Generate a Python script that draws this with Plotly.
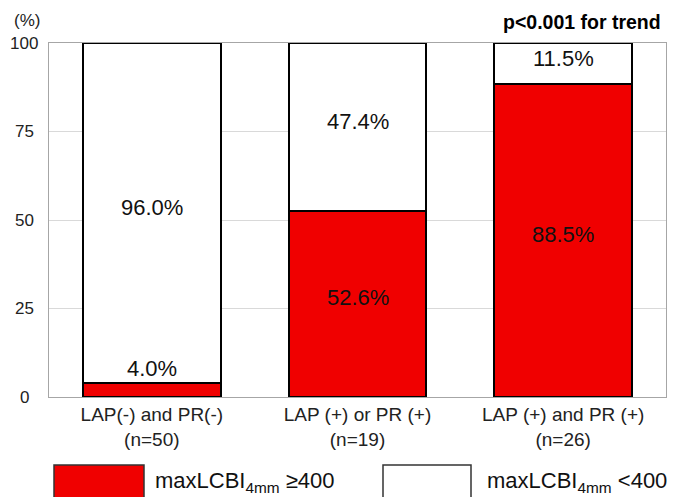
import plotly.graph_objects as go

categories = ["LAP(-) and PR(-)<br>(n=50)", "LAP (+) or PR (+)<br>(n=19)", "LAP (+) and PR (+)<br>(n=26)"]
high_values = [4.0, 52.6, 88.5]   # maxLCBI4mm >=400
low_values = [96.0, 47.4, 11.5]   # maxLCBI4mm <400
y_ticks = [0, 25, 50, 75, 100]

FONT = "Liberation Sans, Arial, sans-serif"
RED = "#F00000"
W, H = 673, 497
L, R, T, B = 49, 7, 43, 100
PW = W - L - R
PH = H - T - B

def px_x(x):
    return (x - L) / PW

def px_y(y):
    return (H - B - y) / PH

fig = go.Figure()
fig.add_trace(go.Bar(x=categories, y=high_values, name="maxLCBI<sub>4mm</sub> ≥400",
                     marker=dict(color=RED, line=dict(color="#000000", width=2)),
                     hoverinfo="skip"))
fig.add_trace(go.Bar(x=categories, y=low_values, name="maxLCBI<sub>4mm</sub> <400",
                     marker=dict(color="#FFFFFF", line=dict(color="#000000", width=2)),
                     hoverinfo="skip"))

ann = []
for c, hv, lv in zip(categories, high_values, low_values):
    if hv < 10:
        ann.append(dict(x=c, y=hv, yref="y", xref="x", text=f"{hv:.1f}%", showarrow=False,
                        xanchor="center", yanchor="bottom", yshift=0,
                        font=dict(size=22, color="#111111", family=FONT)))
    else:
        ann.append(dict(x=c, y=hv / 2, yref="y", xref="x", text=f"{hv:.1f}%", showarrow=False,
                        xanchor="center", yanchor="middle", yshift=6,
                        font=dict(size=22, color="#111111", family=FONT)))
    ann.append(dict(x=c, y=hv + lv / 2, yref="y", xref="x", text=f"{lv:.1f}%", showarrow=False,
                    xanchor="center", yanchor="middle", yshift=5,
                    font=dict(size=22, color="#111111", family=FONT)))

for t in y_ticks:
    ann.append(dict(x=0, xref="paper", xshift=-25, y=t, yref="y", text=str(t), showarrow=False,
                    xanchor="center", yanchor="middle",
                    font=dict(size=17, color="#222222", family=FONT)))

ann.append(dict(x=0, xref="paper", xshift=-22, y=px_y(20), yref="paper", text="(%)", showarrow=False,
                xanchor="center", yanchor="middle", font=dict(size=17, color="#222222", family=FONT)))
ann.append(dict(x=1, xref="paper", xshift=-3, y=px_y(22), yref="paper", text="<b>p<0.001 for trend</b>",
                showarrow=False, xanchor="right", yanchor="middle",
                font=dict(size=19.5, color="#000000", family=FONT)))

# custom legend
shapes = [
    dict(type="rect", xref="paper", yref="paper", x0=px_x(54), x1=px_x(144), y0=px_y(505), y1=px_y(465),
         fillcolor=RED, line=dict(color="#333333", width=1.5)),
    dict(type="rect", xref="paper", yref="paper", x0=px_x(383), x1=px_x(471), y0=px_y(505), y1=px_y(465),
         fillcolor="#FFFFFF", line=dict(color="#333333", width=1.5)),
]
ann.append(dict(x=px_x(153), xref="paper", y=px_y(482), yref="paper", xanchor="left", yanchor="middle",
                text="maxLCBI<sub>4mm</sub> ≥400", showarrow=False,
                font=dict(size=22, color="#111111", family=FONT)))
ann.append(dict(x=px_x(485), xref="paper", y=px_y(482), yref="paper", xanchor="left", yanchor="middle",
                text="maxLCBI<sub>4mm</sub> <400", showarrow=False,
                font=dict(size=22, color="#111111", family=FONT)))

fig.update_layout(
    width=W, height=H,
    margin=dict(l=L, r=R, t=T, b=B, pad=0),
    barmode="stack", bargap=0.33,
    showlegend=False,
    paper_bgcolor="white", plot_bgcolor="white",
    font=dict(family=FONT, color="#222222"),
    annotations=ann, shapes=shapes,
)
fig.update_xaxes(type="category", showline=True, mirror=True, linecolor="#A6A6A6", linewidth=1,
                 ticks="", tickfont=dict(size=19, color="#222222", family=FONT), showgrid=False)
fig.update_yaxes(range=[0, 100], tickvals=y_ticks, showticklabels=False, showline=True, mirror=True,
                 linecolor="#A6A6A6", linewidth=1, showgrid=True, gridcolor="#D9D9D9", gridwidth=1,
                 zeroline=False, ticks="")

fig.write_html("out.html", config={"displayModeBar": False},
               post_script="document.body.style.margin='0';document.body.style.overflow='hidden';")
